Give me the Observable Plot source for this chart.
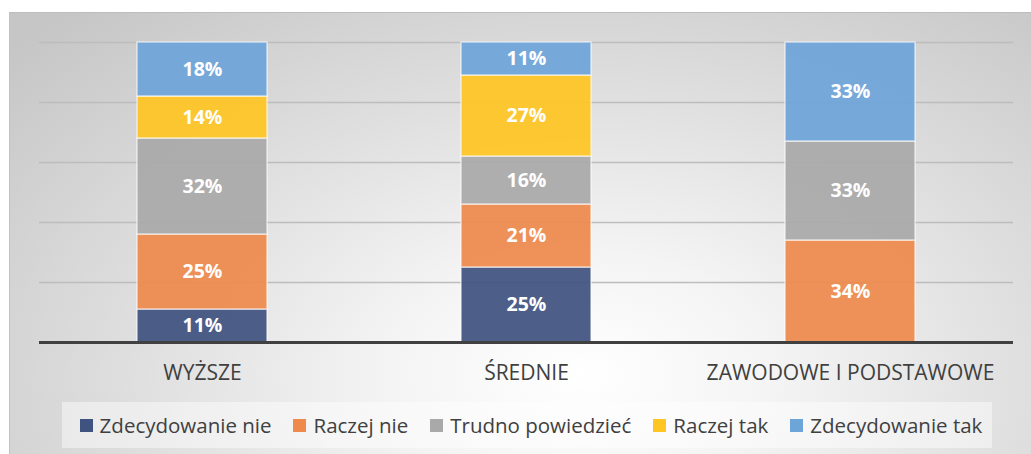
<!DOCTYPE html>
<html>
<head>
<meta charset="utf-8">
<script src="https://cdn.jsdelivr.net/npm/d3@7"></script>
<script src="https://cdn.jsdelivr.net/npm/@observablehq/plot@0.6"></script>
<style>
  html, body { margin: 0; padding: 0; background: #ffffff; }
  #wrap { position: relative; width: 1031px; height: 454px; overflow: hidden; }
  #panel {
    position: absolute; left: 9px; top: 12px; width: 1022px; height: 442px;
    background: radial-gradient(ellipse 75% 110% at 56% 82%, #ffffff 0%, #f4f4f4 25%, #dedede 60%, #c6c6c6 100%);
    border-top: 1px solid #bdbdbd; border-left: 1px solid #c2c2c2; box-sizing: border-box;
  }
  #chart { position: absolute; left: 0; top: 0; }
  #legend {
    position: absolute; left: 62px; top: 402px; width: 930px; height: 46px;
    background: rgba(255,255,255,0.45);
    display: flex; align-items: center; justify-content: center; gap: 22px;
    font-family: "Open Sans", Lato, sans-serif; font-size: 20.5px; color: #404040;
    padding-left: 8px; box-sizing: border-box;
  }
  .item { display: flex; align-items: center; gap: 7px; white-space: nowrap; }
  .sw { width: 13px; height: 13px; display: inline-block; }
</style>
</head>
<body>
<div id="wrap">
  <div id="panel"></div>
  <div id="chart"></div>
  <div id="legend"></div>
</div>
<script>
const categories = ["WYŻSZE", "ŚREDNIE", "ZAWODOWE I PODSTAWOWE"];
const seriesNames = ["Zdecydowanie nie", "Raczej nie", "Trudno powiedzieć", "Raczej tak", "Zdecydowanie tak"];
const seriesColors = ["#3f5380", "#ee8a4c", "#a9a9a9", "#fec523", "#6ea5d8"];
const zdecydowanieNie = [11, 25, 0];
const raczejNie = [25, 21, 34];
const trudnoPowiedziec = [32, 16, 33];
const raczejTak = [14, 27, 0];
const zdecydowanieTak = [18, 11, 33];
const gridTicks = [20, 40, 60, 80, 100];

const seriesValues = [zdecydowanieNie, raczejNie, trudnoPowiedziec, raczejTak, zdecydowanieTak];
const rows = [];
seriesNames.forEach((s, si) => {
  categories.forEach((c, ci) => {
    rows.push({category: c, series: s, value: seriesValues[si][ci]});
  });
});
const labelRows = rows.filter(d => d.value > 0);

const font = "'Open Sans', Lato, sans-serif";

const plot = Plot.plot({
  width: 1031,
  height: 390,
  marginLeft: 39,
  marginRight: 18,
  marginTop: 42,
  marginBottom: 48,
  style: {background: "transparent", fontFamily: font},
  x: {domain: categories, paddingInner: 0.6, paddingOuter: 0.3, label: null},
  y: {domain: [0, 100], axis: null},
  color: {domain: seriesNames, range: seriesColors},
  marks: [
    Plot.ruleY(gridTicks, {stroke: "#bdbdbd", strokeWidth: 1.5}),
    Plot.barY(rows, Plot.stackY({
      x: "category", y: "value", z: "series", fill: "series",
      fillOpacity: 0.93, stroke: "#ffffff", strokeOpacity: 0.6, strokeWidth: 1.5, inset: 0
    })),
    Plot.text(labelRows, Plot.stackY({
      x: "category", y: "value", z: "series",
      text: d => d.value + "%",
      fill: "#ffffff", fontWeight: "bold", fontSize: 19.5, fontFamily: font
    })),
    Plot.ruleY([0], {stroke: "#404040", strokeWidth: 3}),
    Plot.axisX({tickSize: 0, tickPadding: 23, fontSize: 21, fill: "#404040", label: null, fontFamily: font})
  ]
});
document.getElementById("chart").appendChild(plot);

const legend = document.getElementById("legend");
seriesNames.forEach((s, i) => {
  const it = document.createElement("div");
  it.className = "item";
  const sw = document.createElement("span");
  sw.className = "sw";
  sw.style.background = seriesColors[i];
  const t = document.createElement("span");
  t.textContent = s;
  it.appendChild(sw);
  it.appendChild(t);
  legend.appendChild(it);
});
</script>
</body>
</html>
